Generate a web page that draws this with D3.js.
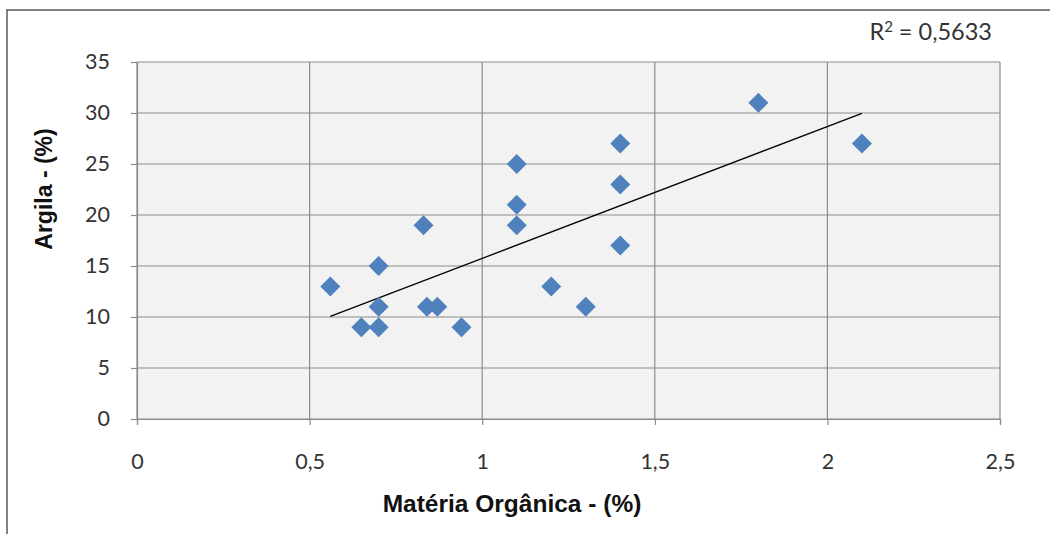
<!DOCTYPE html>
<html><head><meta charset="utf-8">
<script src="https://cdn.jsdelivr.net/npm/d3@7"></script>
<style>body{margin:0;background:#fff}svg{display:block}text{font-family:Lato,"Open Sans",sans-serif}</style>
</head><body>
<svg id="c" width="1050" height="534"></svg>
<script>
const materiaOrganica = [0.56,0.65,0.70,0.70,0.70,0.83,0.84,0.87,0.94,1.10,1.10,1.10,1.20,1.30,1.40,1.40,1.40,1.80,2.10];
const argila          = [13,   9,   9,   11,  15,  19,  11,  11,  9,   25,  21,  19,  13,  11,  27,  23,  17,  31,  27];
const xTicks = [0,0.5,1,1.5,2,2.5];
const yTicks = [0,5,10,15,20,25,30,35];
const r2Parts = ["R", "2", " = 0,5633"];
const xTitle = "Matéria Orgânica - (%)";
const yTitle = "Argila - (%)";

const svg = d3.select("#c");
const L=137, R=1000, T=62, B=419;
const x = d3.scaleLinear().domain([0,2.5]).range([L,R]);
const y = d3.scaleLinear().domain([0,35]).range([B,T]);
const fmt = d => String(d).replace(".", ",");

// outer border
svg.append("rect").attr("x",7).attr("y",10).attr("width",1060).attr("height",540)
  .attr("fill","#fff").attr("stroke","#595959").attr("stroke-width",1.5);

// plot bg
svg.append("rect").attr("x",L).attr("y",T).attr("width",R-L).attr("height",B-T).attr("fill","#f2f2f2");

const gc = "#8c8c8c";
// grid
svg.append("g").selectAll("line").data(yTicks).join("line")
  .attr("x1",L).attr("x2",R).attr("y1",d=>y(d)).attr("y2",d=>y(d)).attr("stroke",gc).attr("stroke-width",1.2);
svg.append("g").selectAll("line").data(xTicks).join("line")
  .attr("y1",T).attr("y2",B).attr("x1",d=>x(d)).attr("x2",d=>x(d)).attr("stroke",gc).attr("stroke-width",1.2);

// axes
const yAxis = svg.append("g").attr("transform",`translate(${L},0)`)
  .call(d3.axisLeft(y).tickValues(yTicks).tickSize(6).tickPadding(21).tickFormat(fmt));
const xAxis = svg.append("g").attr("transform",`translate(0,${B})`)
  .call(d3.axisBottom(x).tickValues(xTicks).tickSize(6).tickPadding(29).tickFormat(fmt));
[yAxis,xAxis].forEach(a=>{
  a.select(".domain").attr("stroke",gc).attr("stroke-width",1.2);
  a.selectAll(".tick line").attr("stroke",gc).attr("stroke-width",1.2);
  a.selectAll(".tick text").attr("fill","#333").style("font-size","21.5px").style("font-family","Lato,sans-serif");
});

// trendline (least squares)
const n = materiaOrganica.length;
const mx = d3.mean(materiaOrganica), my = d3.mean(argila);
let sxy=0,sxx=0;
for(let i=0;i<n;i++){sxy+=(materiaOrganica[i]-mx)*(argila[i]-my);sxx+=(materiaOrganica[i]-mx)**2;}
const slope=sxy/sxx, icpt=my-slope*mx;
const [x0,x1] = d3.extent(materiaOrganica);
svg.append("line").attr("x1",x(x0)).attr("y1",y(icpt+slope*x0)).attr("x2",x(x1)).attr("y2",y(icpt+slope*x1))
  .attr("stroke","#000").attr("stroke-width",1.3);

// points
const sym = d3.symbol().type(d3.symbolSquare).size(200);
svg.append("g").selectAll("path").data(d3.range(n)).join("path")
  .attr("d",sym).attr("fill","#4f81bd")
  .attr("transform",i=>`translate(${x(materiaOrganica[i])},${y(argila[i])}) rotate(45)`);

// texts
const r2 = svg.append("text").attr("x",992).attr("y",40).attr("text-anchor","end")
  .style("font-size","23.5px").attr("fill","#333");
r2.append("tspan").text(r2Parts[0]);
r2.append("tspan").attr("dy",-8).style("font-size","15px").text(r2Parts[1]);
r2.append("tspan").attr("dy",8).text(r2Parts[2]);
svg.append("text").attr("x",512).attr("y",512).attr("text-anchor","middle")
  .style("font-size","24.5px").style("font-weight","bold").style("font-family","'Liberation Sans',Arial,sans-serif")
  .attr("fill","#111").text(xTitle);
svg.append("text").attr("transform","translate(52,189) rotate(-90)").attr("text-anchor","middle")
  .style("font-size","23px").style("font-weight","bold").style("font-family","'Liberation Sans',Arial,sans-serif")
  .attr("fill","#111").text(yTitle);
</script>
</body></html>
